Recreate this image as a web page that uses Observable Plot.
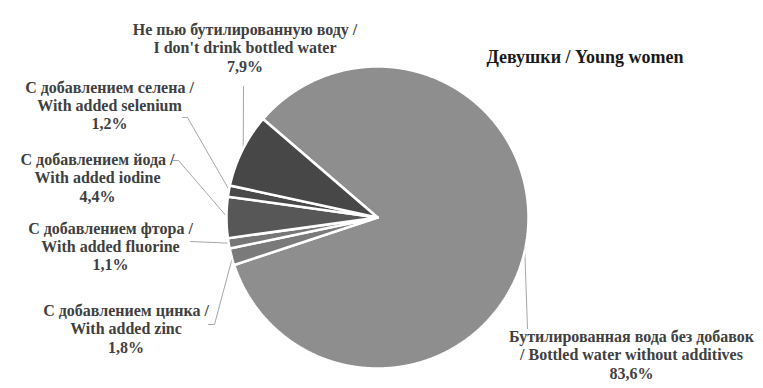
<!DOCTYPE html>
<html><head><meta charset="utf-8">
<script src="https://cdn.jsdelivr.net/npm/d3@7"></script>
<script src="https://cdn.jsdelivr.net/npm/@observablehq/plot@0.6"></script>
<style>body{margin:0;background:#fff}#chart{width:763px;height:388px}</style>
</head><body><div id="chart"></div>
<script>
// ---- data ----
const categories = ["bottled", "zinc", "fluorine", "iodine", "selenium", "none"];
const labelLine1 = ["Бутилированная вода без добавок", "С добавлением цинка /", "С добавлением фтора /", "С добавлением йода /", "С добавлением селена /", "Не пью бутилированную воду /"];
const labelLine2 = ["/ Bottled water without additives", "With added zinc", "With added fluorine", "With added iodine", "With added selenium", "I don't drink bottled water"];
const values = [83.6, 1.8, 1.1, 4.4, 1.2, 7.9];
const title = "Девушки / Young women";

// ---- styles / layout ----
const sliceColors = ["#8e8e8e", "#7a7a7a", "#767676", "#575757", "#4a4a4a", "#474747"];
const W = 763, H = 388, cx = 377, cy = 217, R = 151;
const startDeg = -49.3;
const serif = "'Liberation Serif', 'Times New Roman', serif";
const labelPos = [[631, 354], [125.5, 328], [110, 245.7], [97, 177], [109, 104.5], [244.5, 47]];
const leaderElbows = [[[527, 328]], [[214, 324], [208, 324]], [[190, 241]], [[178, 160], [173, 160]], [[187, 117], [182, 117]], [[243, 86]]];

const fmt = v => v.toFixed(1).replace(".", ",") + "%";
const rows = categories.map((c, i) => ({key: c, value: values[i], color: sliceColors[i],
  text: labelLine1[i] + "\n" + labelLine2[i] + "\n" + fmt(values[i]),
  lx: labelPos[i][0], ly: labelPos[i][1]}));

const start = startDeg * Math.PI / 180;
const arcs = d3.pie().sort(null).value(d => d.value).startAngle(start).endAngle(start + 2 * Math.PI)(rows);

const px = (a, r) => cx + r * Math.sin(a);
const py = (a, r) => cy - r * Math.cos(a);

const sliceMarks = arcs.map(a => {
  const pts = [{x: cx, y: cy}];
  const n = Math.max(2, Math.ceil((a.endAngle - a.startAngle) / (Math.PI / 720)));
  for (let k = 0; k <= n; k++) {
    const t = a.startAngle + (a.endAngle - a.startAngle) * k / n;
    pts.push({x: px(t, R), y: py(t, R)});
  }
  pts.push({x: cx, y: cy});
  return Plot.line(pts, {x: "x", y: "y", fill: a.data.color, stroke: "white", strokeWidth: 2.5, strokeLinejoin: "miter"});
});

const leaders = arcs.map((a, i) => {
  const m = (a.startAngle + a.endAngle) / 2;
  const pts = [{x: px(m, R - 1), y: py(m, R - 1)}, ...leaderElbows[i].map(([x, y]) => ({x, y}))];
  return Plot.line(pts, {x: "x", y: "y", stroke: "#a6a6a6", strokeWidth: 1});
});

const chart = Plot.plot({
  width: W, height: H,
  margin: 0,
  x: {domain: [0, W], range: [0, W], axis: null},
  y: {domain: [0, H], range: [0, H], axis: null},
  style: {background: "white", fontFamily: serif},
  marks: [
    ...leaders,
    ...sliceMarks,
    Plot.text(rows, {x: "lx", y: "ly", text: "text", fontFamily: serif, fontWeight: "bold", fontSize: 16, lineHeight: 1.145, fill: "#404040", textAnchor: "middle", lineAnchor: "middle"}),
    Plot.text([title], {x: () => 584.5, y: () => 56.7, text: d => d, fontFamily: serif, fontWeight: "bold", fontSize: 18, fill: "#1a1a1a", textAnchor: "middle", lineAnchor: "middle"})
  ]
});
document.getElementById("chart").appendChild(chart);
</script>
</body></html>
